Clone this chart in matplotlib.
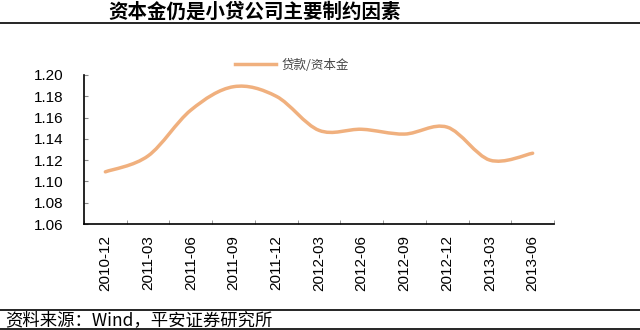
import matplotlib
matplotlib.use("Agg")
import matplotlib.pyplot as plt
from matplotlib.path import Path
from matplotlib.patches import PathPatch
from matplotlib.lines import Line2D
import numpy as np

plt.rcParams['font.family'] = ['Liberation Sans', 'Noto Sans CJK SC', 'DejaVu Sans']

title = "资本金仍是小贷公司主要制约因素"
source = "资料来源：Wind，平安证券研究所"
series_name = "贷款/资本金"
dates = ["2010-12", "2011-03", "2011-06", "2011-09", "2011-12", "2012-03",
         "2012-06", "2012-09", "2012-12", "2013-03", "2013-06"]
ratio = [1.109, 1.124, 1.167, 1.189, 1.180, 1.148,
         1.149, 1.1445, 1.151, 1.120, 1.1265]
yticks = [1.06, 1.08, 1.10, 1.12, 1.14, 1.16, 1.18, 1.20]

line_color = "#F0B07E"


def smooth_path(xs, ys):
    # excel-like smoothed line: bezier segments with catmull-rom controls
    pts = np.column_stack([xs, ys])
    n = len(pts)
    verts = [pts[0]]
    codes = [Path.MOVETO]
    for i in range(n - 1):
        p0 = pts[i - 1] if i > 0 else pts[i]
        p1 = pts[i]
        p2 = pts[i + 1]
        p3 = pts[i + 2] if i + 2 < n else pts[i + 1]
        c1 = p1 + (p2 - p0) / 6.0
        c2 = p2 - (p3 - p1) / 6.0
        verts += [c1, c2, p2]
        codes += [Path.CURVE4] * 3
    return Path(verts, codes)


fig = plt.figure(figsize=(6.4, 3.3), dpi=100)
ax = fig.add_axes([84 / 640, 1 - 224 / 330, (554 - 84) / 640, (224 - 75) / 330])

x = np.arange(len(dates))
ax.add_patch(PathPatch(smooth_path(x, ratio), facecolor="none",
                       edgecolor=line_color, lw=2.5, capstyle="round"))

ax.set_xlim(-0.5, len(dates) - 0.5)
ax.set_ylim(1.06, 1.20)
ax.set_yticks(yticks)
ax.set_yticklabels([f"{v:.2f}" for v in yticks], fontsize=11)
ax.set_xticks(x)
ax.set_xticklabels(dates, rotation=90, fontsize=11)
ax.set_xticks(np.arange(len(dates) + 1) - 0.5, minor=True)
ax.tick_params(axis="x", which="major", length=0, pad=8)
ax.tick_params(axis="x", which="minor", direction="in", length=3, color="#888888")
ax.tick_params(axis="y", direction="in", length=3, color="#888888", pad=15)

for s in ["top", "right"]:
    ax.spines[s].set_visible(False)
for s in ["left", "bottom"]:
    ax.spines[s].set_linewidth(1.2)

handle = Line2D([], [], color=line_color, lw=2.5)
leg = fig.legend([handle], [series_name], loc="center",
                 bbox_to_anchor=(292 / 640, 1 - 65 / 330), frameon=False,
                 handlelength=3.3, handletextpad=0.4,
                 prop={"family": ["Noto Sans CJK SC"], "size": 9})
for t in leg.get_texts():
    t.set_color("#444444")

fig.text(108 / 640, 1 - 12 / 330, title, fontsize=14, fontweight="bold",
         family=["Noto Sans CJK SC", "DejaVu Sans"], va="center", ha="left")
fig.add_artist(Line2D([0, 1], [1 - 23 / 330, 1 - 23 / 330], color="black", lw=1.2))

fig.text(5 / 640, 1 - 320 / 330, source, fontsize=12.5, style="italic",
         family=["Noto Sans CJK SC", "DejaVu Sans"], va="center", ha="left")
fig.add_artist(Line2D([0, 1], [1 - 310 / 330, 1 - 310 / 330], color="black", lw=1.2))
fig.add_artist(Line2D([0, 1], [1 - 329 / 330, 1 - 329 / 330], color="black", lw=1.2))

fig.savefig("out.png", dpi=100)
